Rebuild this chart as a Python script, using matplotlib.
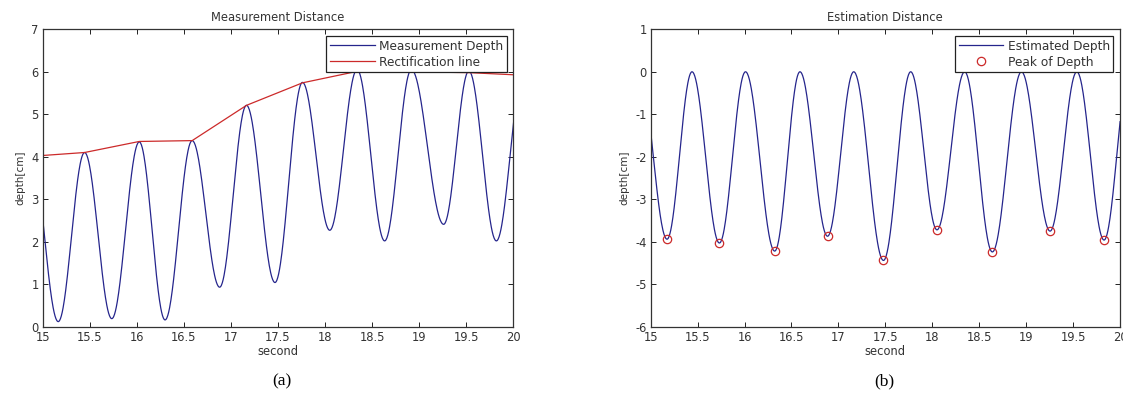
import numpy as np
import matplotlib
matplotlib.use("Agg")
import matplotlib.pyplot as plt

# ---------------- data ----------------
# (a) Measurement depth: alternating extrema (time [s], depth [cm]);
# first and last entries lie just outside the visible 15..20 window
meas_t = [14.87, 15.165, 15.445, 15.734, 16.026, 16.30, 16.588, 16.88, 17.165,
          17.468, 17.76, 18.05, 18.34, 18.633, 18.917, 19.26, 19.528, 19.82, 20.11]
meas_v = [4.20, 0.12, 4.10, 0.19, 4.35, 0.16, 4.38, 0.93, 5.21,
          1.04, 5.75, 2.27, 6.05, 2.02, 6.05, 2.41, 6.02, 2.02, 6.00]

# rectification line vertices
rect_t = [15.0, 15.445, 16.026, 16.588, 17.165, 17.76, 18.34, 18.917, 19.528, 20.0]
rect_v = [4.03, 4.10, 4.36, 4.38, 5.21, 5.74, 6.01, 6.00, 5.98, 5.93]

# (b) Estimated depth extrema
est_t = [14.88, 15.174, 15.44, 15.732, 16.01, 16.321, 16.59, 16.884, 17.163,
         17.48, 17.77, 18.05, 18.345, 18.64, 18.95, 19.255, 19.54, 19.83, 20.10]
est_v = [0.0, -3.94, 0.0, -4.03, 0.0, -4.22, 0.0, -3.87, 0.0,
         -4.44, 0.0, -3.72, 0.0, -4.24, 0.0, -3.75, 0.0, -3.96, 0.0]

# peak-of-depth markers
peak_t = [15.174, 15.732, 16.321, 16.884, 17.48, 18.05, 18.64, 19.255, 19.83]
peak_v = [-3.94, -4.03, -4.22, -3.87, -4.44, -3.72, -4.24, -3.75, -3.96]

x_ticks = [15, 15.5, 16, 16.5, 17, 17.5, 18, 18.5, 19, 19.5, 20]
x_ticklabels = ["15", "15.5", "16", "16.5", "17", "17.5", "18", "18.5", "19", "19.5", "20"]
ya_ticks = [0, 1, 2, 3, 4, 5, 6, 7]
yb_ticks = [-6, -5, -4, -3, -2, -1, 0, 1]


def smooth_wave(tk, vk, n=60):
    """Join consecutive extrema with half-cosine segments."""
    ts, vs = [], []
    for i in range(len(tk) - 1):
        s = np.linspace(0, 1, n, endpoint=False)
        w = (1 - np.cos(np.pi * s)) / 2
        ts.append(tk[i] + (tk[i + 1] - tk[i]) * s)
        vs.append(vk[i] + (vk[i + 1] - vk[i]) * w)
    ts.append([tk[-1]])
    vs.append([vk[-1]])
    return np.concatenate(ts), np.concatenate(vs)


BLUE = "#25258c"
RED = "#cc2a2a"
FS = 8.3

plt.rcParams["font.family"] = ["DejaVu Sans"]
plt.rcParams["axes.unicode_minus"] = False

fig = plt.figure(figsize=(11.23, 3.96), dpi=100)
W, H = 1123, 396
axA = fig.add_axes([42.7 / W, 1 - 326.7 / H, 470.6 / W, 297.4 / H])
axB = fig.add_axes([650.7 / W, 1 - 326.7 / H, 469.3 / W, 297.4 / H])


def style(ax, yticks, ylim, title):
    ax.set_xlim(15, 20)
    ax.set_ylim(*ylim)
    ax.set_xticks(x_ticks)
    ax.set_xticklabels(x_ticklabels)
    ax.set_yticks(yticks)
    ax.tick_params(direction="in", length=3.5, width=0.7, top=True, right=True,
                   labelsize=FS, pad=3, colors="#222222", labelcolor="#333333")
    for sp in ax.spines.values():
        sp.set_linewidth(0.9)
        sp.set_color("#333333")
    ax.set_title(title, fontsize=FS, color="#333333", pad=6)
    ax.set_xlabel("second", fontsize=FS, color="#333333", labelpad=1)
    ax.set_ylabel("depth[cm]", fontsize=7.5, color="#333333", labelpad=4)


# (a)
tA, vA = smooth_wave(meas_t, meas_v)
axA.plot(tA, vA, color=BLUE, lw=0.9, label="Measurement Depth")
axA.plot(rect_t, rect_v, color=RED, lw=0.9, label="Rectification line")
style(axA, ya_ticks, (0, 7), "Measurement Distance")

# (b)
tB, vB = smooth_wave(est_t, est_v)
axB.plot(tB, vB, color=BLUE, lw=0.9, label="Estimated Depth")
axB.plot(peak_t, peak_v, linestyle="none", marker="o", markersize=6,
         markerfacecolor="none", markeredgecolor=RED, markeredgewidth=0.9,
         label="Peak of Depth")
style(axB, yb_ticks, (-6, 1), "Estimation Distance")

for ax in (axA, axB):
    leg = ax.legend(loc="upper right", fontsize=8.7, frameon=True, fancybox=False,
                    edgecolor="#222222", framealpha=1, borderaxespad=0.55,
                    handlelength=3.7, handletextpad=0.35, borderpad=0.3,
                    labelspacing=0.25)
    leg.get_frame().set_linewidth(0.9)
    for txt in leg.get_texts():
        txt.set_color("#333333")

fig.text(282 / W, 1 - 381.7 / H, "(a)", ha="center", va="center",
         fontsize=12.5, family="Liberation Serif")
fig.text(884 / W, 1 - 381.7 / H, "(b)", ha="center", va="center",
         fontsize=12.5, family="Liberation Serif")

fig.savefig("out.png", dpi=100)
